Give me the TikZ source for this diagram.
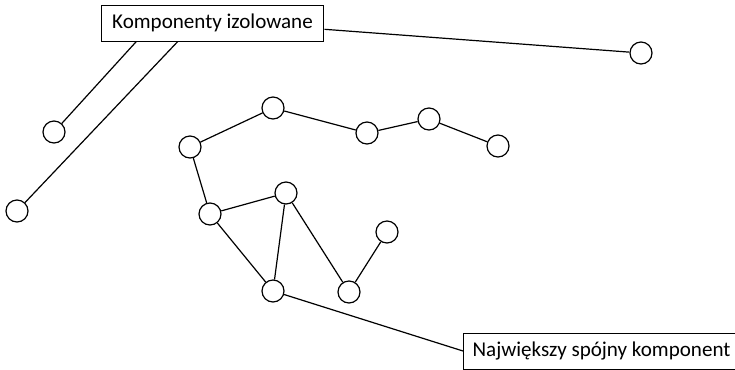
\documentclass[tikz,border=0pt]{standalone}
\usepackage{fontspec}
\setmainfont{Carlito}
\usetikzlibrary{calc}

\tikzset{every picture/.style={line width=0.9pt}}
\tikzset{
  vert/.style={draw, circle, minimum size=16.5pt, inner sep=0pt},
  lbl/.style={draw, rectangle, line width=0.75pt, minimum height=27pt, inner xsep=8.4pt, font=\fontsize{15.8}{18}\selectfont}
}

\begin{document}
\begin{tikzpicture}[x=0.75pt,y=0.75pt,yscale=-1,xscale=1]
\useasboundingbox (0,0) rectangle (735,369);

%Isolated vertices
\node [vert] (n1) at (54,132) {};
\node [vert] (n2) at (17,211) {};
\node [vert] (n3) at (641,53) {};

%Largest component
\node [vert] (a) at (273,108) {};
\node [vert] (b) at (190,147) {};
\node [vert] (c) at (367,133) {};
\node [vert] (d) at (429,119) {};
\node [vert] (e) at (498,146) {};
\node [vert] (f) at (286,193) {};
\node [vert] (g) at (210,214) {};
\node [vert] (h) at (387,232) {};
\node [vert] (i) at (349,292) {};
\node [vert] (j) at (273,291) {};

\draw (b) -- (a) -- (c) -- (d) -- (e);
\draw (b) -- (g) -- (f) -- (j) -- (g);
\draw (f) -- (i) -- (h);

%Labels
\node [lbl] (iso) at (212.5,23) {Komponenty izolowane};
\node [lbl, anchor=west, inner xsep=6.8pt] (big) at (463,351) {Największy spójny komponent};

\coordinate (iso1) at ($(iso.south west)!0.16!(iso.south east)$);
\coordinate (iso2) at ($(iso.south west)!0.345!(iso.south east)$);
\coordinate (iso3) at ($(iso.north east)!0.67!(iso.south east)$);
\draw (iso1) -- (n1);
\draw (iso2) -- (n2);
\draw (iso3) -- (n3);
\draw (j) -- (big.west);

\end{tikzpicture}
\end{document}
